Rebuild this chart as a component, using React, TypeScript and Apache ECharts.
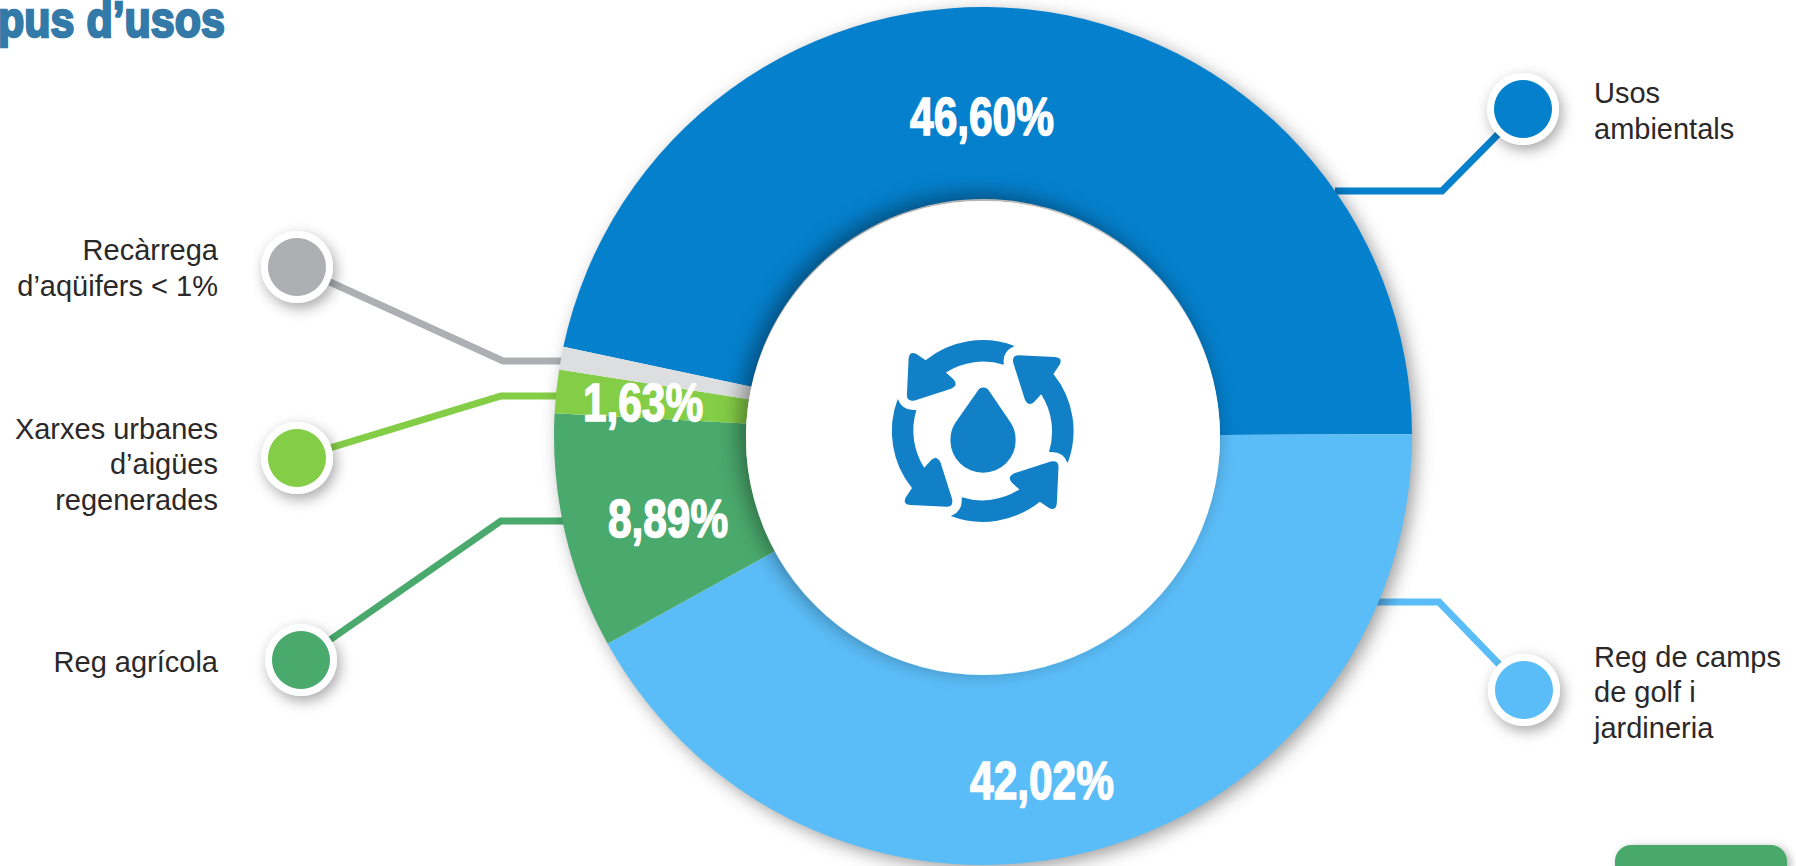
import React, { useEffect, useRef } from "react";
import * as echarts from "echarts";

const names = ["Usos ambientals", "Reg de camps de golf i jardineria", "Reg agrícola", "Xarxes urbanes d’aigües regenerades", "Recàrrega d’aqüifers < 1%"];
const shares = [46.6, 42.02, 8.89, 1.63, 0.86];
const sliceColors = ["#0480cc", "#5bbdf8", "#4aa96c", "#84cd47", "#dcdee0"];
const markerColors = ["#0480cc", "#5bbdf8", "#4aa96c", "#84cd47", "#aeafb3"];
const labelPositions = [[982, 117], [1042, 781], [668, 519], [643, 403], null];
const markerCenters = [[1523, 109], [1524, 690], [301, 660], [297, 458], [297, 267]];
const lineElbows = [[[1442, 191], [1335, 191]], [[1439, 602], [1375, 602]], [[501, 521], [570, 521]], [[501, 396], [570, 396]], [[503, 361], [570, 361]]];
const calloutTexts = ["Usos\nambientals", "Reg de camps\nde golf i\njardineria", "Reg agrícola", "Xarxes urbanes\nd’aigües\nregenerades", "Recàrrega\nd’aqüifers < 1%"];
const calloutAnchors = [[1594, 111, "left"], [1594, 692, "left"], [218, 662, "right"], [218, 464, "right"], [218, 268, "right"]];

const ARROW = "M462 110 A267 267 0 0 0 200 152 L172 133 Q152 124 150 148 L145 255 Q146 275 168 270 L275 236 Q298 225 282 208 L260 188 A204 204 0 0 1 430 165 Q425 125 462 110 Z";
const DROP = "M370 232 Q358 232 352 244 L288 335 Q273 358 273 387 A96 96 0 1 0 465 387 Q465 358 450 335 L388 244 Q382 232 370 232 Z";
echarts.graphic.registerShape("iconArrow", echarts.graphic.extendPath(ARROW, {}));
echarts.graphic.registerShape("iconDrop", echarts.graphic.extendPath(DROP, {}));

const CX = 983, CY = 436, R_OUT = 429, R_IN = 237;
const HEAVY = "'Liberation Sans', Arial, sans-serif";
const ICON = "#1180c6";
const ICON_ORIGIN = [368, 360];
const ICON_CENTER = [982.7, 431];
const ICON_SCALE = 0.34;

export default function App() {
  const ref = useRef<HTMLDivElement>(null);
  useEffect(() => {
    const chart = echarts.init(ref.current!, undefined, { renderer: "svg" });
    const shadow = { shadowColor: "rgba(0,0,0,0.4)", shadowBlur: 18, shadowOffsetX: 5, shadowOffsetY: 5 };
    const graphic: any[] = [];
    // title
    graphic.push({ type: "text", z: 5, x: -2, y: 20, scaleX: 0.86, style: { text: "pus d’usos", fill: "#337aa9", stroke: "#337aa9", lineWidth: 2.5, font: `bold 50px ${HEAVY}`, verticalAlign: "middle", align: "left" } });
    // leader lines
    markerCenters.forEach((c, i) => {
      graphic.push({ type: "polyline", z: 0, shape: { points: [c, ...lineElbows[i]] }, style: { stroke: markerColors[i], lineWidth: 7, fill: "none", lineJoin: "miter" } });
    });
    // disc that casts the ring's shadow
    graphic.push({ type: "circle", z: 1, shape: { cx: CX, cy: CY, r: R_OUT - 1 }, style: { fill: "#fff", ...shadow } });
    // hole
    graphic.push({ type: "circle", z: 6, shape: { cx: CX, cy: CY + 2, r: R_IN }, style: { fill: "#fff", shadowColor: "rgba(0,0,0,0.42)", shadowBlur: 22, shadowOffsetX: -6, shadowOffsetY: -6 } });
    // percent labels
    shares.forEach((v, i) => {
      const p = labelPositions[i];
      if (!p) return;
      graphic.push({ type: "text", z: 7, x: p[0], y: p[1], scaleX: 0.8, style: { text: v.toFixed(2).replace(".", ",") + "%", fill: "#fff", stroke: "#fff", lineWidth: 1.5, font: `bold 53px ${HEAVY}`, align: "center", verticalAlign: "middle" } });
    });
    // icon
    const iconBase = { z: 7, x: ICON_CENTER[0] - ICON_ORIGIN[0], y: ICON_CENTER[1] - ICON_ORIGIN[1], scaleX: ICON_SCALE, scaleY: ICON_SCALE, originX: ICON_ORIGIN[0], originY: ICON_ORIGIN[1] };
    [0, 1, 2, 3].forEach((k) => {
      graphic.push({ type: "iconArrow", ...iconBase, rotation: (-k * Math.PI) / 2, style: { fill: ICON } });
    });
    graphic.push({ type: "iconDrop", ...iconBase, style: { fill: ICON } });
    // markers
    markerCenters.forEach((c, i) => {
      graphic.push({ type: "circle", z: 8, shape: { cx: c[0], cy: c[1], r: 36 }, style: { fill: "#fff", shadowColor: "rgba(0,0,0,0.35)", shadowBlur: 14, shadowOffsetX: 3, shadowOffsetY: 5 } });
      graphic.push({ type: "circle", z: 9, shape: { cx: c[0], cy: c[1], r: 29 }, style: { fill: markerColors[i] } });
      const a = calloutAnchors[i];
      graphic.push({ type: "text", z: 9, x: a[0], y: a[1], style: { text: calloutTexts[i], fill: "#2b2829", font: "29px 'Liberation Sans', Arial, sans-serif", lineHeight: 35.5, align: a[2], verticalAlign: "middle" } });
    });
    // corner tab
    graphic.push({ type: "rect", z: 5, shape: { x: 1615, y: 845, width: 172, height: 60, r: 16 }, style: { fill: "#4aa96c", shadowColor: "rgba(0,0,0,0.3)", shadowBlur: 8, shadowOffsetX: 3, shadowOffsetY: 2 } });

    chart.setOption({
      animation: false,
      backgroundColor: "#fff",
      graphic,
      series: [
        {
          type: "pie",
          silent: true,
          z: 2,
          center: [CX, CY],
          radius: [R_IN, R_OUT],
          startAngle: 168,
          clockwise: true,
          avoidLabelOverlap: false,
          labelLine: { show: false },
          label: { show: false },
          data: names.map((name, i) => ({ name, value: shares[i], itemStyle: { color: sliceColors[i] } })),
        },
      ],
    });
    return () => chart.dispose();
  }, []);
  return <div ref={ref} style={{ position: "absolute", left: 0, top: 0, width: 1796, height: 866, overflow: "hidden" }} />;
}
